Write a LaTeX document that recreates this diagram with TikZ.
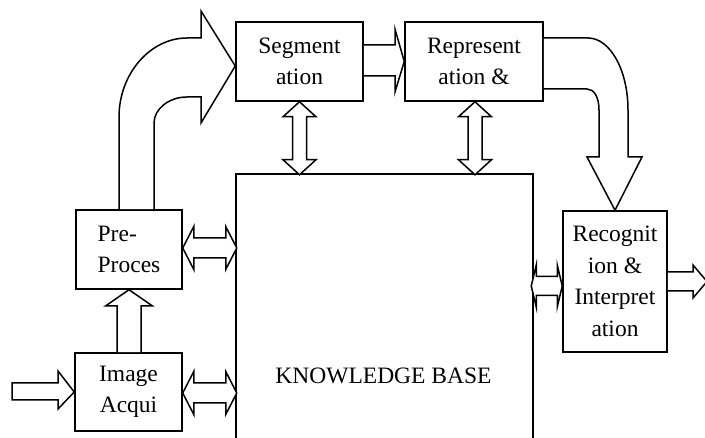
\documentclass[tikz,border=0pt]{standalone}
\usepackage{fontspec}
\setmainfont{Liberation Serif}
\usetikzlibrary{calc}
\begin{document}
\begin{tikzpicture}[x=1pt,y=1pt,
  box/.style={draw, line width=1.5pt, inner sep=0pt, align=center,
    font=\fontsize{23.5}{31.5}\selectfont},
  blk/.style={draw, line width=1.5pt, line join=miter, fill=white},
  lbl/.style={inner sep=0pt, font=\fontsize{23.5}{31.5}\selectfont}]
\useasboundingbox (0,0) rectangle (705,437);
% boxes
\node[box, minimum width=127pt, minimum height=79pt] (seg) at (299.5,375.5) {Segment\\ation};
\node[box, minimum width=138pt, minimum height=79pt] (rep) at (474,375.5) {Represent\\ation \&};
\node[box, minimum width=106pt, minimum height=79pt, align=left] (pre) at (129,187.5) {Pre-\\Proces};
\node[box, minimum width=107pt, minimum height=78pt] (img) at (128.5,45) {Image\\Acqui};
\node[box, minimum width=104pt, minimum height=141pt] (rec) at (615,155.5) {Recognit\\ion \&\\Interpret\\ation};
\node[minimum width=297pt, minimum height=267pt, inner sep=0pt] (kb) at (384.5,129.5) {};
\draw[line width=1.5pt] (kb.south west) -- (kb.north west) -- (kb.north east) -- (kb.south east);
\node[lbl] (kbl) at (383.5,61) {KNOWLEDGE BASE};
% pre -> seg curved arrow
\draw[blk] ($(pre.north)+(-10,0)$) -- (119,320) .. controls (119,363) and (150,399) .. (187,399)
  -- (201,399) -- (201,426) -- ($(seg.west)+(0,-4.5)$) -- (201,314) -- (201,340) -- (187,340)
  .. controls (169,340) and (154,328) .. (154,314) -- ($(pre.north)+(25,0)$);
% seg -> rep
\draw[blk] ($(seg.east)+(0,16.5)$) -- (395,392) -- (395,408) -- (rep.west) -- (395,345) -- (395,361) -- ($(seg.east)+(0,-14.5)$);
% rep -> rec curved arrow
\draw[blk] ($(rep.east)+(0,23.5)$) -- (588,399) .. controls (610,399) and (628,367) .. (628,327)
  -- (628,280) -- (642,280) -- (rec.north) -- (587,280) -- (599,280) -- (599,327)
  .. controls (599,340) and (594,348) .. (587,348) -- ($(rep.east)+(0,-27.5)$);
% seg <-> kb
\draw[blk] (seg.south) -- ++(16.5,-15) -- ++(-9.5,0) -- ++(0,-43) -- ++(9.5,0) -- ++(-16.5,-15)
  -- ++(-16.5,15) -- ++(9.5,0) -- ++(0,43) -- ++(-9.5,0) -- cycle;
% rep <-> kb
\draw[blk] ($(rep.south)+(1,0)$) -- ++(16.5,-15) -- ++(-9.5,0) -- ++(0,-43) -- ++(9.5,0) -- ++(-16.5,-15)
  -- ++(-16.5,15) -- ++(9.5,0) -- ++(0,43) -- ++(-9.5,0) -- cycle;
% pre <-> kb
\draw[blk] ($(pre.east)+(0,1.5)$) -- ++(11,21.5) -- ++(0,-11.5) -- ++(32,0) -- ++(0,11.5) -- ++(11,-21.5)
  -- ++(-11,-21.5) -- ++(0,11.5) -- ++(-32,0) -- ++(0,-11.5) -- cycle;
% img <-> kb
\draw[blk] ($(img.east)+(0,-1)$) -- ++(11,21.5) -- ++(0,-11.5) -- ++(32,0) -- ++(0,11.5) -- ++(11,-21.5)
  -- ++(-11,-21.5) -- ++(0,11.5) -- ++(-32,0) -- ++(0,-11.5) -- cycle;
% img -> pre
\draw[blk] ($(img.north)+(-11.5,0)$) -- (117,131) -- (105.5,131) -- (pre.south) -- (152.5,131) -- (141,131) -- ($(img.north)+(12.5,0)$);
% input -> img
\coordinate (in) at (12,45.5);
\draw[blk] (in) -- (12,54) -- (58,54) -- (58,66) -- (img.west) -- (58,28) -- (58,37) -- (12,37) -- cycle;
% kb <-> rec
\draw[blk] ($(rec.west)+(0,-4.5)$) -- ++(-5,21) -- ++(0,-11.5) -- ++(-21,0) -- ++(0,11.5) -- ++(-5,-21)
  -- ++(5,-21) -- ++(0,11.5) -- ++(21,0) -- ++(0,-11.5) -- cycle;
% rec -> out
\coordinate (out) at (707,155.5);
\draw[blk] ($(rec.east)+(0,9.5)$) -- (693,165) -- (693,172) -- (out) -- (693,139) -- (693,146) -- ($(rec.east)+(0,-9.5)$);
\end{tikzpicture}
\end{document}
